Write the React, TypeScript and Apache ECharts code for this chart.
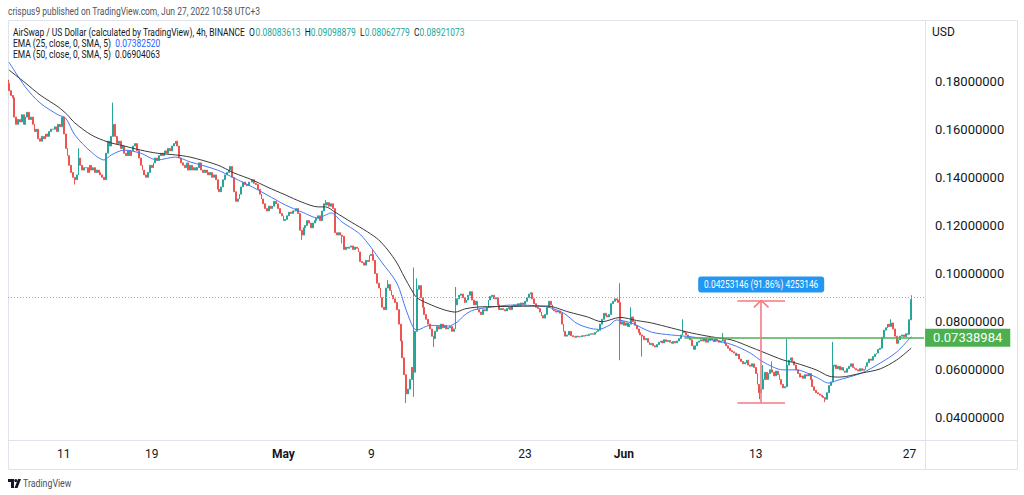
import React, { useEffect, useRef } from "react";
import * as echarts from "echarts";

// ---- data (4h candles, Apr 6 03:00 -> Jun 27 07:00, UTC+3) ----
const firstOpen = 0.179;
const closes: number[] = [
  0.1760, 0.1740, 0.1730, 0.1650, 0.1620, 0.1640,
  0.1630, 0.1660, 0.1620, 0.1650, 0.1670, 0.1640,
  0.1650, 0.1620, 0.1590, 0.1600, 0.1560, 0.1550,
  0.1570, 0.1560, 0.1580, 0.1570, 0.1590, 0.1600,
  0.1600, 0.1610, 0.1590, 0.1620, 0.1610, 0.1650,
  0.1580, 0.1520, 0.1490, 0.1450, 0.1420, 0.1400,
  0.1390, 0.1410, 0.1480, 0.1450, 0.1430, 0.1440,
  0.1440, 0.1420, 0.1450, 0.1430, 0.1440, 0.1420,
  0.1430, 0.1420, 0.1410, 0.1400, 0.1390, 0.1500,
  0.1550, 0.1530, 0.1570, 0.1620, 0.1570, 0.1540,
  0.1550, 0.1520, 0.1530, 0.1500, 0.1490, 0.1510,
  0.1490, 0.1510, 0.1530, 0.1540, 0.1510, 0.1480,
  0.1450, 0.1430, 0.1410, 0.1400, 0.1420, 0.1450,
  0.1440, 0.1460, 0.1480, 0.1470, 0.1490, 0.1500,
  0.1490, 0.1510, 0.1500, 0.1520, 0.1510, 0.1530,
  0.1540, 0.1550, 0.1530, 0.1480, 0.1460, 0.1450,
  0.1440, 0.1460, 0.1430, 0.1450, 0.1430, 0.1440,
  0.1430, 0.1440, 0.1460, 0.1430, 0.1420, 0.1430,
  0.1420, 0.1410, 0.1420, 0.1400, 0.1410, 0.1390,
  0.1350, 0.1340, 0.1360, 0.1390, 0.1410, 0.1420,
  0.1430, 0.1445, 0.1400, 0.1340, 0.1300, 0.1310,
  0.1330, 0.1360, 0.1380, 0.1370, 0.1365, 0.1380,
  0.1380, 0.1390, 0.1375, 0.1370, 0.1350, 0.1330,
  0.1310, 0.1290, 0.1270, 0.1260, 0.1280, 0.1270,
  0.1280, 0.1300, 0.1290, 0.1270, 0.1250, 0.1240,
  0.1220, 0.1225, 0.1240, 0.1255, 0.1250, 0.1260,
  0.1260, 0.1270, 0.1250, 0.1180, 0.1160, 0.1190,
  0.1200, 0.1220, 0.1210, 0.1190, 0.1210, 0.1220,
  0.1230, 0.1240, 0.1220, 0.1260, 0.1290, 0.1285,
  0.1295, 0.1280, 0.1290, 0.1270, 0.1170, 0.1160,
  0.1170, 0.1160, 0.1155, 0.1100, 0.1110, 0.1105,
  0.1110, 0.1115, 0.1100, 0.1110, 0.1105, 0.1090,
  0.1050, 0.1045, 0.1035, 0.1055, 0.1050, 0.1075,
  0.1080, 0.1055, 0.1000, 0.0960, 0.0940, 0.0900,
  0.0860, 0.0850, 0.0940, 0.0955, 0.0930, 0.0910,
  0.0895, 0.0880, 0.0850, 0.0790, 0.0720, 0.0650,
  0.0580, 0.0500, 0.0520, 0.0560, 0.0610, 0.0590,
  0.0760, 0.0935, 0.0950, 0.0900, 0.0860, 0.0830,
  0.0810, 0.0790, 0.0770, 0.0740, 0.0730, 0.0760,
  0.0780, 0.0770, 0.0790, 0.0775, 0.0785, 0.0770,
  0.0775, 0.0780, 0.0760, 0.0770, 0.0870, 0.0895,
  0.0910, 0.0915, 0.0900, 0.0880, 0.0890, 0.0910,
  0.0925, 0.0890, 0.0870, 0.0885, 0.0850, 0.0840,
  0.0830, 0.0850, 0.0845, 0.0860, 0.0890, 0.0905,
  0.0910, 0.0895, 0.0900, 0.0870, 0.0850, 0.0855,
  0.0850, 0.0845, 0.0855, 0.0860, 0.0850, 0.0865,
  0.0870, 0.0865, 0.0875, 0.0868, 0.0878, 0.0872,
  0.0885, 0.0900, 0.0915, 0.0920, 0.0895, 0.0875,
  0.0860, 0.0855, 0.0840, 0.0825, 0.0815, 0.0830,
  0.0860, 0.0885, 0.0870, 0.0850, 0.0845, 0.0840,
  0.0845, 0.0835, 0.0790, 0.0760, 0.0740, 0.0745,
  0.0760, 0.0742, 0.0738, 0.0735, 0.0740, 0.0737,
  0.0738, 0.0742, 0.0740, 0.0745, 0.0743, 0.0748,
  0.0750, 0.0748, 0.0755, 0.0760, 0.0765, 0.0790,
  0.0810, 0.0835, 0.0825, 0.0820, 0.0830, 0.0875,
  0.0885, 0.0895, 0.0890, 0.0880, 0.0790, 0.0800,
  0.0785, 0.0795, 0.0780, 0.0790, 0.0820, 0.0800,
  0.0785, 0.0770, 0.0755, 0.0745, 0.0740, 0.0725,
  0.0730, 0.0715, 0.0705, 0.0710, 0.0700, 0.0695,
  0.0705, 0.0715, 0.0720, 0.0712, 0.0725, 0.0718,
  0.0722, 0.0715, 0.0710, 0.0718, 0.0712, 0.0720,
  0.0730, 0.0745, 0.0760, 0.0755, 0.0745, 0.0735,
  0.0725, 0.0700, 0.0685, 0.0700, 0.0715, 0.0720,
  0.0725, 0.0720, 0.0728, 0.0715, 0.0722, 0.0730,
  0.0725, 0.0718, 0.0728, 0.0722, 0.0715, 0.0720,
  0.0725, 0.0710, 0.0700, 0.0690, 0.0680, 0.0675,
  0.0670, 0.0660, 0.0665, 0.0645, 0.0635, 0.0625,
  0.0630, 0.0640, 0.0620, 0.0615, 0.0625, 0.0610,
  0.0585, 0.0540, 0.0505, 0.0520, 0.0560, 0.0590,
  0.0560, 0.0585, 0.0600, 0.0590, 0.0575, 0.0595,
  0.0580, 0.0560, 0.0540, 0.0525, 0.0530, 0.0620,
  0.0640, 0.0650, 0.0635, 0.0620, 0.0600, 0.0585,
  0.0570, 0.0575, 0.0565, 0.0580, 0.0575, 0.0585,
  0.0560, 0.0530, 0.0515, 0.0505, 0.0500, 0.0495,
  0.0490, 0.0485, 0.0478, 0.0505, 0.0535, 0.0550,
  0.0615, 0.0620, 0.0605, 0.0615, 0.0600, 0.0610,
  0.0595, 0.0590, 0.0605, 0.0615, 0.0625, 0.0610,
  0.0605, 0.0600, 0.0595, 0.0605, 0.0598, 0.0602,
  0.0615, 0.0630, 0.0645, 0.0640, 0.0655, 0.0665,
  0.0670, 0.0685, 0.0690, 0.0735, 0.0765, 0.0775,
  0.0790, 0.0780, 0.0795, 0.0770, 0.0740, 0.0710,
  0.0725, 0.0740, 0.0745, 0.0738, 0.0750, 0.0748,
  0.08083613, 0.08921073,
];

// notable wicks: [candle index, price]
const wickHighs: [number, number][] = [
  [0, 0.1805], [38, 0.152], [57, 0.171], [173, 0.1305], [199, 0.1098], [207, 0.0973],
  [221, 0.1025], [223, 0.098], [244, 0.0944], [334, 0.096], [340, 0.086], [368, 0.081],
  [390, 0.0753], [412, 0.062], [417, 0.0635], [425, 0.0728], [450, 0.0716], [482, 0.081],
  [493, 0.09098879],
];
const wickLows: [number, number][] = [
  [36, 0.137], [160, 0.114], [182, 0.1125], [217, 0.0462], [221, 0.0488], [232, 0.0695],
  [334, 0.064], [346, 0.0655], [410, 0.0478], [446, 0.0466], [493, 0.08062779],
];

// EMA values: [candle index, value]
const ema25: [number, number][] = [
  [0, 0.1879], [9, 0.1775], [17, 0.1709], [27, 0.1659], [31, 0.1646], [36, 0.1576], [45, 0.1505],
  [52, 0.1472], [56, 0.1493], [63, 0.1513], [72, 0.15], [81, 0.1472], [91, 0.1484], [99, 0.1464],
  [114, 0.143], [123, 0.1397], [133, 0.136], [141, 0.1327], [151, 0.1285], [160, 0.1256],
  [169, 0.1231], [173, 0.1243], [176, 0.1252], [182, 0.1214], [191, 0.1169], [196, 0.1127],
  [204, 0.1044], [212, 0.096], [217, 0.0849], [221, 0.0775], [223, 0.0766], [230, 0.0785],
  [240, 0.0782], [245, 0.0799], [249, 0.0828], [254, 0.0849], [264, 0.0861], [274, 0.0869],
  [293, 0.0863], [303, 0.0836], [311, 0.079], [322, 0.0768], [328, 0.0785], [332, 0.0807],
  [340, 0.0795], [351, 0.0757], [362, 0.0745], [373, 0.0737], [384, 0.0724], [395, 0.0705],
  [405, 0.067], [412, 0.0633], [423, 0.06], [430, 0.06], [441, 0.057], [448, 0.0545],
  [452, 0.0555], [466, 0.0587], [476, 0.0628], [485, 0.0674], [493, 0.0738252],
];
const ema50: [number, number][] = [
  [0, 0.1846], [9, 0.1792], [17, 0.1742], [27, 0.1692], [32, 0.1659], [36, 0.1626], [45, 0.1576],
  [54, 0.1547], [63, 0.153], [72, 0.1513], [81, 0.15], [91, 0.1493], [99, 0.1484], [114, 0.1451],
  [123, 0.1418], [133, 0.1389], [141, 0.136], [151, 0.1327], [160, 0.1297], [169, 0.1277],
  [173, 0.1277], [178, 0.1256], [187, 0.1214], [196, 0.1173], [202, 0.114], [207, 0.1098],
  [212, 0.1044], [216, 0.0986], [220, 0.0932], [223, 0.0899], [231, 0.0869], [238, 0.0849],
  [244, 0.084], [249, 0.0853], [256, 0.0861], [267, 0.0863], [294, 0.0865], [306, 0.084],
  [316, 0.082], [324, 0.08], [334, 0.0818], [343, 0.0805], [351, 0.0795], [362, 0.0774],
  [373, 0.0753], [384, 0.0737], [395, 0.0724], [405, 0.0695], [412, 0.0674], [423, 0.0641],
  [430, 0.0628], [441, 0.06], [448, 0.0574], [454, 0.057], [466, 0.0587], [476, 0.0604],
  [485, 0.0641], [493, 0.06904063],
];

const tickIdx = [30, 78, 150, 198, 282, 336, 408, 492];
const tickLabels = ["11", "19", "May", "9", "23", "Jun", "13", "27"];
const priceTicks = [0.04, 0.06, 0.08, 0.1, 0.12, 0.14, 0.16, 0.18];

const lastOpen = 0.08083613;
const lastHigh = 0.09098879;
const lastLow = 0.08062779;
const lastClose = 0.08921073;
const ema25Last = 0.0738252;
const ema50Last = 0.06904063;
const levelPrice = 0.07338984;
const levelStartIdx = 369;
const rangeDelta = 0.04253146;
const rangePct = 91.86;
const rangeLow = rangeDelta / (rangePct / 100);
const rangeHigh = rangeLow + rangeDelta;
const rangeLeftIdx = 398;
const rangeMidIdx = 411;
const rangeRightIdx = 424;
const totalSlots = 501;

const Y_MIN = 0.03086;
const Y_MAX = 0.20535;

const FONT = "Roboto, 'Noto Sans', sans-serif";

export default function App() {
  const ref = useRef<HTMLDivElement>(null);

  useEffect(() => {
    if (!ref.current) return;
    const chart = echarts.init(ref.current, undefined, { renderer: "svg" });

    const hi = new Map(wickHighs);
    const lo = new Map(wickLows);
    const candles = closes.map((c, i) => {
      const o = i === 0 ? firstOpen : closes[i - 1];
      const h = Math.max(o, c, hi.has(i) ? (hi.get(i) as number) : 0);
      const l = Math.min(o, c, lo.has(i) ? (lo.get(i) as number) : Infinity);
      return [o, c, l, h];
    });
    const cats = Array.from({ length: totalSlots }, (_, i) => String(i));

    const red = { color: "#f47a80", width: 1.6, type: "solid" as const };
    const chev = rangeHigh - 0.0029;

    const option: any = {
      animation: false,
      backgroundColor: "#ffffff",
      grid: { left: 8, right: 99, top: 20, bottom: 55, outerBoundsMode: "none" },
      xAxis: {
        type: "category",
        data: cats,
        boundaryGap: true,
        axisLine: { show: false },
        axisTick: { show: false },
        splitLine: { show: false },
        axisLabel: {
          interval: (i: number) => tickIdx.includes(i),
          formatter: (v: string) => {
            const k = tickIdx.indexOf(parseInt(v, 10));
            const t = k >= 0 ? tickLabels[k] : "";
            return /^[A-Z]/.test(t) ? `{m|${t}}` : t;
          },
          rich: { m: { fontWeight: "bold", fontSize: 12, color: "#131722", fontFamily: FONT } },
          fontSize: 12,
          color: "#131722",
          fontFamily: FONT,
          margin: 8,
        },
      },
      yAxis: {
        type: "value",
        position: "right",
        min: Y_MIN,
        max: Y_MAX,
        axisLine: { show: false },
        axisTick: { show: false },
        splitLine: { show: false },
        axisLabel: {
          customValues: priceTicks,
          formatter: (v: number) => v.toFixed(8),
          fontSize: 13,
          color: "#131722",
          fontFamily: FONT,
          margin: 10,
        },
      },
      series: [
        {
          type: "candlestick",
          data: candles,
          barWidth: 1.4,
          itemStyle: {
            color: "#26a69a",
            color0: "#ef5350",
            borderColor: "#26a69a",
            borderColor0: "#ef5350",
            borderWidth: 1,
          },
          markLine: {
            symbol: ["none", "none"],
            silent: true,
            animation: false,
            label: { show: false },
            data: [
              { yAxis: lastClose, lineStyle: { color: "#6cc7bd", type: [1, 2], width: 1 } },
              [
                {
                  coord: [levelStartIdx, levelPrice],
                  lineStyle: { color: "#4caf50", width: 1.5, type: "solid" },
                  label: {
                    show: true,
                    position: "end",
                    distance: 1,
                    formatter: levelPrice.toFixed(8),
                    backgroundColor: "#4caf50",
                    color: "#ffffff",
                    fontSize: 13,
                    fontFamily: FONT,
                    padding: [3, 8, 2, 8],
                  },
                },
                { coord: [totalSlots - 1, levelPrice] },
              ],
              [{ coord: [rangeLeftIdx, rangeHigh], lineStyle: red }, { coord: [rangeRightIdx, rangeHigh] }],
              [{ coord: [rangeLeftIdx, rangeLow], lineStyle: red }, { coord: [rangeRightIdx, rangeLow] }],
              [{ coord: [rangeMidIdx, rangeLow], lineStyle: red }, { coord: [rangeMidIdx, rangeHigh] }],
              [{ coord: [rangeMidIdx - 4, chev], lineStyle: red }, { coord: [rangeMidIdx, rangeHigh] }],
              [{ coord: [rangeMidIdx + 4, chev], lineStyle: red }, { coord: [rangeMidIdx, rangeHigh] }],
            ],
          },
          z: 2,
        },
        {
          type: "line",
          name: "EMA25",
          data: ema25,
          showSymbol: false,
          smooth: 0.3,
          lineStyle: { color: "#4479f5", width: 1 },
          z: 3,
        },
        {
          type: "line",
          name: "EMA50",
          data: ema50,
          showSymbol: false,
          smooth: 0.3,
          lineStyle: { color: "#3b3b3b", width: 1 },
          z: 3,
        },
      ],
    };
    chart.setOption(option);

    const p = chart.convertToPixel({ seriesIndex: 0 }, [rangeMidIdx, rangeHigh]) as number[];
    const sx = 0.77;
    const graphic: any[] = [
      { type: "rect", silent: true, z: -10, shape: { x: 8.5, y: 20.5, width: 1009, height: 449 }, style: { fill: "none", stroke: "#e0e3eb", lineWidth: 1 } },
      { type: "line", silent: true, shape: { x1: 8, y1: 440.5, x2: 1017, y2: 440.5 }, style: { stroke: "#e0e3eb", lineWidth: 1 } },
      { type: "line", silent: true, shape: { x1: 925.5, y1: 20, x2: 925.5, y2: 470 }, style: { stroke: "#e0e3eb", lineWidth: 1 } },
      {
        type: "text", x: 8, y: 11, scaleX: sx,
        style: { text: "crispus9 published on TradingView.com, Jun 27, 2022 10:58 UTC+3", font: `11px ${FONT}`, fill: "#50535e", verticalAlign: "middle", textVerticalAlign: "middle" },
      },
      {
        type: "text", x: 13, y: 32, scaleX: sx,
        style: {
          text:
            "AirSwap / US Dollar (calculated by TradingView), 4h, BINANCE  " +
            `O{v|${lastOpen.toFixed(8)}}  H{v|${lastHigh.toFixed(8)}}  L{v|${lastLow.toFixed(8)}}  C{v|${lastClose.toFixed(8)}}`,
          font: `11px ${FONT}`, fill: "#131722", verticalAlign: "middle", textVerticalAlign: "middle",
          rich: { v: { fill: "#26a69a", font: `11px ${FONT}` } },
        },
      },
      {
        type: "text", x: 13, y: 43, scaleX: sx,
        style: { text: `EMA (25, close, 0, SMA, 5)  {b|${ema25Last.toFixed(8)}}`, font: `11px ${FONT}`, fill: "#131722", verticalAlign: "middle", textVerticalAlign: "middle", rich: { b: { fill: "#2962ff", font: `11px ${FONT}` } } },
      },
      {
        type: "text", x: 13, y: 54, scaleX: sx,
        style: { text: `EMA (50, close, 0, SMA, 5)  ${ema50Last.toFixed(8)}`, font: `11px ${FONT}`, fill: "#131722", verticalAlign: "middle", textVerticalAlign: "middle" },
      },
      { type: "text", x: 932, y: 32, style: { text: "USD", font: `12px ${FONT}`, fill: "#131722", verticalAlign: "middle", textVerticalAlign: "middle" } },
      // TradingView logo
      { type: "polygon", silent: true, shape: { points: [[8, 479], [14, 479], [14, 488], [11, 488], [11, 482], [8, 482]] }, style: { fill: "#131722" } },
      { type: "circle", silent: true, shape: { cx: 15.8, cy: 480.6, r: 1.5 }, style: { fill: "#131722" } },
      { type: "polygon", silent: true, shape: { points: [[18, 479], [21, 479], [17.5, 488], [14.5, 488]] }, style: { fill: "#131722" } },
      { type: "text", x: 23, y: 483.5, scaleX: 0.88, style: { text: "TradingView", font: `10px ${FONT}`, fill: "#4a4e59", verticalAlign: "middle", textVerticalAlign: "middle" } },
    ];
    if (p && isFinite(p[0])) {
      graphic.push({
        type: "group",
        children: [
          { type: "rect", shape: { x: p[0] - 63, y: p[1] - 24, width: 126, height: 16, r: 3 }, style: { fill: "#2196f3" } },
          {
            type: "text", x: p[0], y: p[1] - 16, scaleX: 0.76,
            style: {
              text: `${rangeDelta.toFixed(8)} (${rangePct.toFixed(2)}%) ${Math.round(rangeDelta * 1e8)}`,
              font: `11px ${FONT}`, fill: "#ffffff", align: "center", textAlign: "center", verticalAlign: "middle", textVerticalAlign: "middle",
            },
          },
        ],
      });
    }
    chart.setOption({ graphic });

    return () => chart.dispose();
  }, []);

  return (
    <div
      ref={ref}
      style={{ position: "fixed", left: 0, top: 0, width: 1024, height: 495, background: "#ffffff" }}
    />
  );
}
